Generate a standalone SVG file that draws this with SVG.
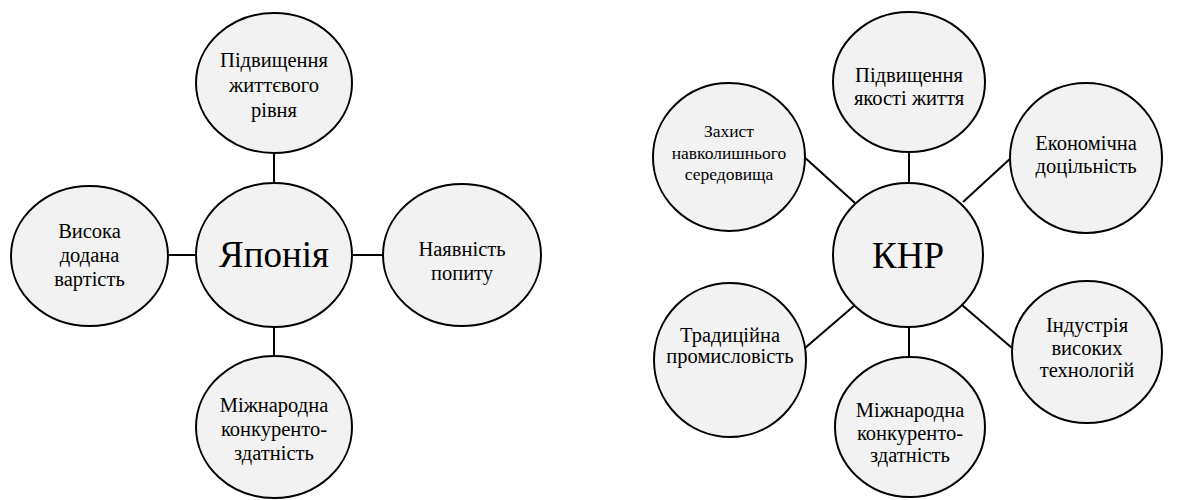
<svg xmlns="http://www.w3.org/2000/svg" width="1185" height="500" viewBox="0 0 1185 500">
  <rect width="1185" height="500" fill="#fff"/>

  <!-- connectors -->
  <g id="connectors" stroke="#000" stroke-width="2" fill="none">
    <line x1="274" y1="153" x2="274" y2="183"/>
    <line x1="168" y1="255" x2="196" y2="255"/>
    <line x1="352" y1="255" x2="383" y2="255"/>
    <line x1="274" y1="327" x2="274" y2="356"/>

    <line x1="909" y1="152" x2="909" y2="183"/>
    <line x1="802" y1="155" x2="855" y2="203"/>
    <line x1="1012" y1="157" x2="963" y2="202"/>
    <line x1="805" y1="348" x2="855" y2="305"/>
    <line x1="909" y1="327" x2="909" y2="357"/>
    <line x1="962" y1="305" x2="1012" y2="348"/>
  </g>

  <!-- Japan -->
  <g id="jp-center">
    <ellipse cx="274" cy="255" rx="78" ry="72" fill="#f2f2f2" stroke="#000" stroke-width="2"/>
    <text font-family="Liberation Serif" text-anchor="middle" font-size="37" x="274" y="267">Японія</text>
  </g>
  <g id="jp-top">
    <ellipse cx="274" cy="83" rx="78" ry="70" fill="#f2f2f2" stroke="#000" stroke-width="2"/>
    <text font-family="Liberation Serif" text-anchor="middle" font-size="20.5" x="274" y="67">Підвищення</text>
    <text font-family="Liberation Serif" text-anchor="middle" font-size="20.5" x="274" y="92">життєвого</text>
    <text font-family="Liberation Serif" text-anchor="middle" font-size="20.5" x="274" y="117">рівня</text>
  </g>
  <g id="jp-left">
    <ellipse cx="89.5" cy="256" rx="78.5" ry="70" fill="#f2f2f2" stroke="#000" stroke-width="2"/>
    <text font-family="Liberation Serif" text-anchor="middle" font-size="20.5" x="89.5" y="238">Висока</text>
    <text font-family="Liberation Serif" text-anchor="middle" font-size="20.5" x="89.5" y="262">додана</text>
    <text font-family="Liberation Serif" text-anchor="middle" font-size="20.5" x="89.5" y="286">вартість</text>
  </g>
  <g id="jp-right">
    <ellipse cx="462" cy="255" rx="79" ry="71" fill="#f2f2f2" stroke="#000" stroke-width="2"/>
    <text font-family="Liberation Serif" text-anchor="middle" font-size="20.5" x="462" y="256">Наявність</text>
    <text font-family="Liberation Serif" text-anchor="middle" font-size="20.5" x="462" y="280">попиту</text>
  </g>
  <g id="jp-bottom">
    <ellipse cx="274" cy="427" rx="78" ry="71" fill="#f2f2f2" stroke="#000" stroke-width="2"/>
    <text font-family="Liberation Serif" text-anchor="middle" font-size="20.5" x="274" y="412">Міжнародна</text>
    <text font-family="Liberation Serif" text-anchor="middle" font-size="20.5" x="274" y="436">конкуренто-</text>
    <text font-family="Liberation Serif" text-anchor="middle" font-size="20.5" x="274" y="460">здатність</text>
  </g>

  <!-- China -->
  <g id="cn-center">
    <ellipse cx="908" cy="255" rx="75" ry="72" fill="#f2f2f2" stroke="#000" stroke-width="2"/>
    <text font-family="Liberation Serif" text-anchor="middle" font-size="37" x="908" y="268">КНР</text>
  </g>
  <g id="cn-top">
    <ellipse cx="909" cy="82" rx="76" ry="70" fill="#f2f2f2" stroke="#000" stroke-width="2"/>
    <text font-family="Liberation Serif" text-anchor="middle" font-size="20.5" x="909" y="82">Підвищення</text>
    <text font-family="Liberation Serif" text-anchor="middle" font-size="20.5" x="909" y="105">якості життя</text>
  </g>
  <g id="cn-upper-left">
    <ellipse cx="729" cy="157" rx="76" ry="74" fill="#f2f2f2" stroke="#000" stroke-width="2"/>
    <text font-family="Liberation Serif" text-anchor="middle" font-size="17.5" x="729" y="137">Захист</text>
    <text font-family="Liberation Serif" text-anchor="middle" font-size="17.5" x="729" y="158.5">навколишнього</text>
    <text font-family="Liberation Serif" text-anchor="middle" font-size="17.5" x="729" y="180">середовища</text>
  </g>
  <g id="cn-upper-right">
    <ellipse cx="1086" cy="158" rx="76" ry="75" fill="#f2f2f2" stroke="#000" stroke-width="2"/>
    <text font-family="Liberation Serif" text-anchor="middle" font-size="20.5" x="1086" y="150">Економічна</text>
    <text font-family="Liberation Serif" text-anchor="middle" font-size="20.5" x="1086" y="173">доцільність</text>
  </g>
  <g id="cn-lower-left">
    <ellipse cx="730" cy="360" rx="76" ry="77" fill="#f2f2f2" stroke="#000" stroke-width="2"/>
    <text font-family="Liberation Serif" text-anchor="middle" font-size="20.5" x="730" y="342">Традиційна</text>
    <text font-family="Liberation Serif" text-anchor="middle" font-size="20.5" x="730" y="363">промисловість</text>
  </g>
  <g id="cn-bottom">
    <ellipse cx="910" cy="427" rx="75" ry="70" fill="#f2f2f2" stroke="#000" stroke-width="2"/>
    <text font-family="Liberation Serif" text-anchor="middle" font-size="20.5" x="910" y="417">Міжнародна</text>
    <text font-family="Liberation Serif" text-anchor="middle" font-size="20.5" x="910" y="440">конкуренто-</text>
    <text font-family="Liberation Serif" text-anchor="middle" font-size="20.5" x="910" y="462">здатність</text>
  </g>
  <g id="cn-lower-right">
    <ellipse cx="1087" cy="352" rx="75" ry="71" fill="#f2f2f2" stroke="#000" stroke-width="2"/>
    <text font-family="Liberation Serif" text-anchor="middle" font-size="20.5" x="1087" y="332">Індустрія</text>
    <text font-family="Liberation Serif" text-anchor="middle" font-size="20.5" x="1087" y="355">високих</text>
    <text font-family="Liberation Serif" text-anchor="middle" font-size="20.5" x="1087" y="377">технологій</text>
  </g>
</svg>
